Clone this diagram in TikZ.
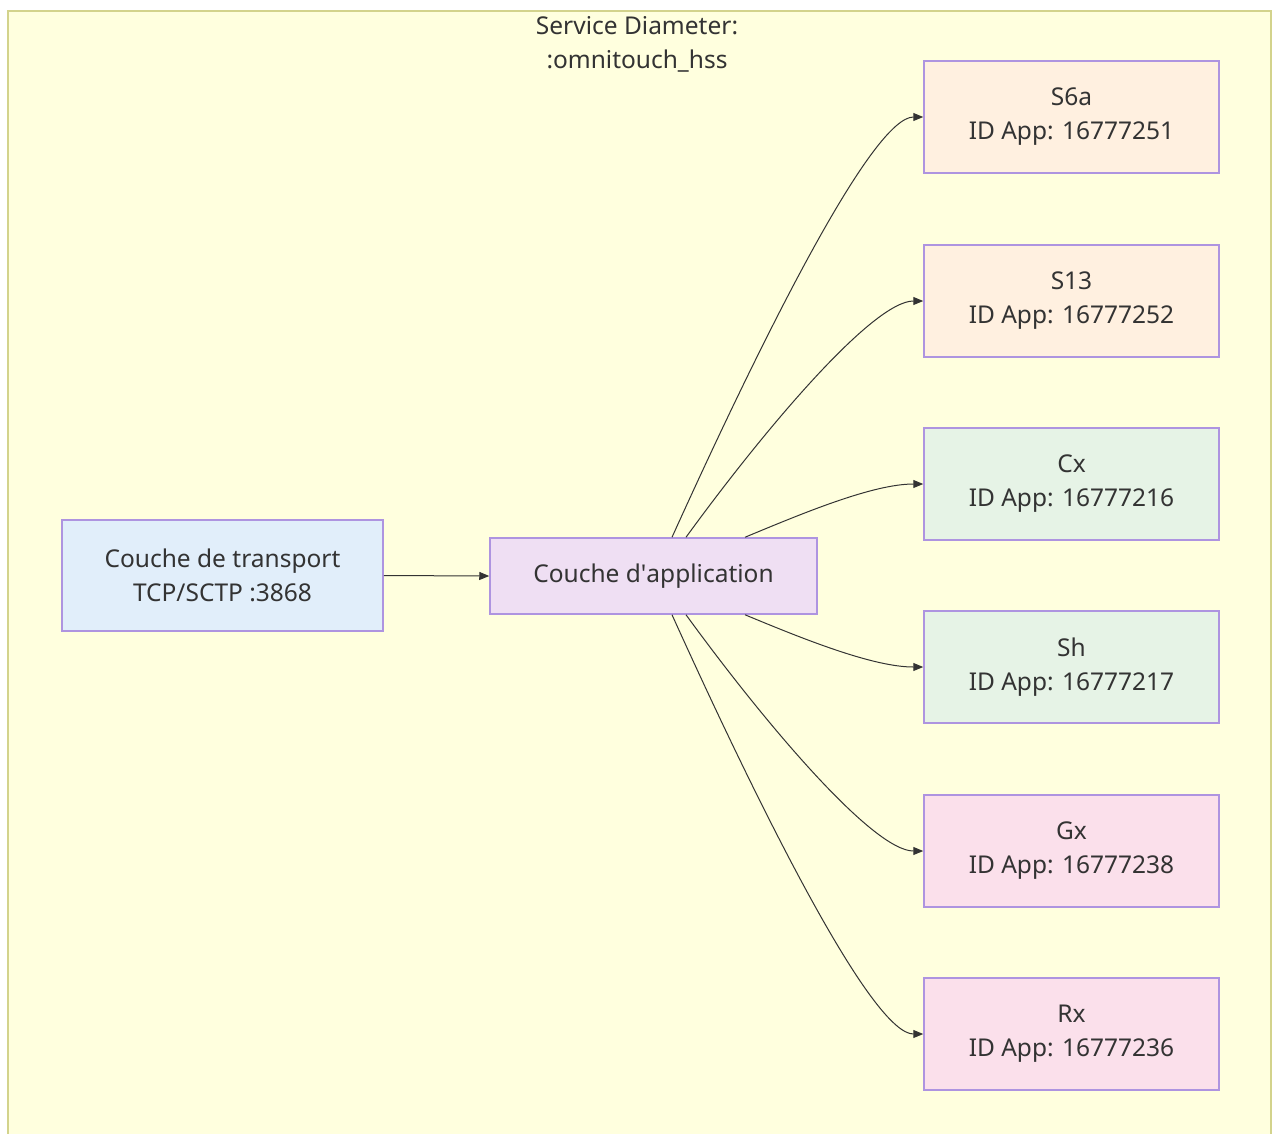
\documentclass[tikz,border=0pt]{standalone}
\usepackage{fontspec}
\setmainfont{Noto Sans}
\usetikzlibrary{arrows.meta}
\definecolor{clfill}{HTML}{FFFFDE}
\definecolor{clline}{HTML}{D3D38C}
\definecolor{nline}{HTML}{AE94E0}
\definecolor{txt}{HTML}{333333}
\definecolor{fblue}{HTML}{E1EEFA}
\definecolor{fpurple}{HTML}{EFDFF3}
\definecolor{forange}{HTML}{FFF0E0}
\definecolor{fgreen}{HTML}{E6F3E6}
\definecolor{fpink}{HTML}{FBE0EB}
\tikzset{
  box/.style={draw=nline, line width=1.5pt, text=txt, align=center, inner sep=0pt,
    font=\fontsize{24.5}{34}\selectfont},
  rbox/.style={box, minimum width=295pt, minimum height=112pt},
  link/.style={draw=txt, line width=1pt, -{Triangle[length=10pt,width=8pt]}}
}
\begin{document}
\begin{tikzpicture}[x=1pt,y=-1pt]
\useasboundingbox (0,0) rectangle (1273,1133);
\fill[white] (0,0) rectangle (1273,1133);
\draw[fill=clfill, draw=clline, line width=2pt] (8,11) rectangle (1271,1145);
\node[text=txt, align=center, font=\fontsize{24.5}{34}\selectfont] (title) at (637,44) {Service Diameter:\\ :omnitouch\_hss};
\node[box, fill=fblue, minimum width=321pt, minimum height=111pt] (tr) at (222.5,575.5) {Couche de transport\\TCP/SCTP :3868};
\node[box, fill=fpurple, minimum width=327pt, minimum height=76pt] (app) at (653.5,576) {Couche d\textquotesingle application};
\node[rbox, fill=forange] (s6a) at (1071.5,117) {S6a\\ID App: 16777251};
\node[rbox, fill=forange] (s13) at (1071.5,301) {S13\\ID App: 16777252};
\node[rbox, fill=fgreen] (cx) at (1071.5,484) {Cx\\ID App: 16777216};
\node[rbox, fill=fgreen] (sh) at (1071.5,667) {Sh\\ID App: 16777217};
\node[rbox, fill=fpink] (gx) at (1071.5,851) {Gx\\ID App: 16777238};
\node[rbox, fill=fpink] (rx) at (1071.5,1034) {Rx\\ID App: 16777236};
\draw[link] (tr.east) -- (app.west);
\draw[link] ([xshift=18.5pt]app.north) .. controls +(95,-210) and +(-50,0) .. (s6a.west);
\draw[link] ([xshift=32.5pt]app.north) .. controls +(80,-110) and +(-50,0) .. (s13.west);
\draw[link] ([xshift=91.5pt]app.north) .. controls +(60,-25) and +(-50,0) .. (cx.west);
\draw[link] ([xshift=91.5pt]app.south) .. controls +(60,25) and +(-50,0) .. (sh.west);
\draw[link] ([xshift=32.5pt]app.south) .. controls +(80,110) and +(-50,0) .. (gx.west);
\draw[link] ([xshift=18.5pt]app.south) .. controls +(95,210) and +(-50,0) .. (rx.west);
\end{tikzpicture}
\end{document}
